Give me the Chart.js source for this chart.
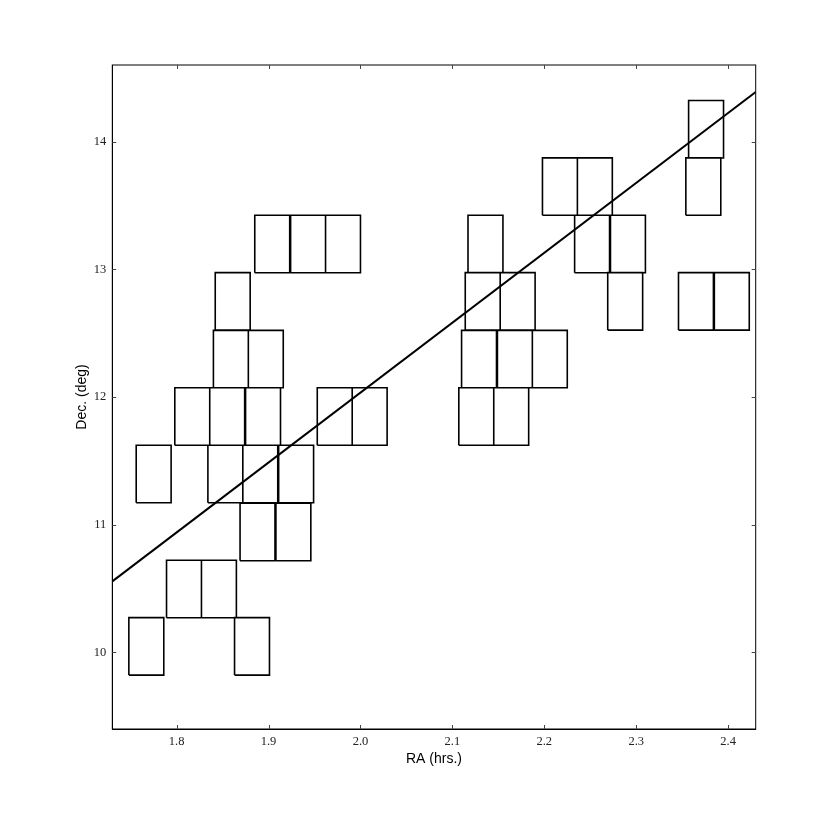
<!DOCTYPE html>
<html>
<head>
<meta charset="utf-8">
<script src="https://cdn.jsdelivr.net/npm/chart.js@4"></script>
<style>
  html, body { margin: 0; padding: 0; background: #fff; }
  #wrap { width: 830px; height: 830px; }
</style>
</head>
<body>
<div id="wrap"><canvas id="c" width="830" height="830"></canvas></div>
<script>
// Field centres (RA in hours, Dec in degrees)
const fieldRA = [
  1.767, 1.882,
  1.808, 1.846,
  1.888, 1.927,
  1.775, 1.853, 1.891, 1.930,
  1.817, 1.855, 1.894, 1.972, 2.010, 2.126, 2.164,
  1.859, 1.897, 2.129, 2.168, 2.206,
  1.861, 2.133, 2.171, 2.288, 2.365, 2.404,
  1.904, 1.943, 1.981, 2.136, 2.252, 2.291,
  2.217, 2.255, 2.373,
  2.376
];
const fieldDec = [
  10.047, 10.047,
  10.496, 10.496,
  10.943, 10.943,
  11.397, 11.397, 11.397, 11.397,
  11.847, 11.847, 11.847, 11.847, 11.847, 11.847, 11.847,
  12.297, 12.297, 12.297, 12.297, 12.297,
  12.749, 12.749, 12.749, 12.749, 12.749, 12.749,
  13.198, 13.198, 13.198, 13.198, 13.198, 13.198,
  13.648, 13.648, 13.648,
  14.097
];
// Field of view size (RA hours x Dec degrees)
const fieldWidthRA = 0.038;
const fieldHeightDec = 0.45;

// Fitted line endpoints
const fitRA = [1.73, 2.43];
const fitDec = [10.556, 14.389];

// Axis ticks
const raTicks = [1.8, 1.9, 2.0, 2.1, 2.2, 2.3, 2.4];
const decTicks = [10, 11, 12, 13, 14];

// Build rectangle outlines (null breaks between them)
const rectPoints = [];
for (let i = 0; i < fieldRA.length; i++) {
  const hx = fieldWidthRA / 2, hy = fieldHeightDec / 2;
  const x = fieldRA[i], y = fieldDec[i];
  rectPoints.push({x: x - hx, y: y - hy}, {x: x + hx, y: y - hy},
                  {x: x + hx, y: y + hy}, {x: x - hx, y: y + hy},
                  {x: x - hx, y: y - hy}, {x: x, y: null});
}
const fitPoints = fitRA.map((x, i) => ({x: x, y: fitDec[i]}));

const tickFont = {family: '"Liberation Serif", "DejaVu Serif", serif', size: 12.5};
const titleFont = {family: '"Liberation Sans", Arial, sans-serif', size: 14};

const framePlugin = {
  id: 'frame',
  afterDraw(chart) {
    const {ctx, chartArea: a, scales} = chart;
    ctx.save();
    ctx.strokeStyle = '#000';
    ctx.lineWidth = 1;
    ctx.strokeRect(a.left, a.top, a.right - a.left, a.bottom - a.top);
    ctx.strokeStyle = '#444';
    ctx.beginPath();
    const tl = 4;
    raTicks.forEach(v => {
      const px = Math.round(scales.x.getPixelForValue(v)) + 0.5;
      ctx.moveTo(px, a.bottom); ctx.lineTo(px, a.bottom - tl);
      ctx.moveTo(px, a.top); ctx.lineTo(px, a.top + tl);
    });
    decTicks.forEach(v => {
      const py = Math.round(scales.y.getPixelForValue(v)) + 0.5;
      ctx.moveTo(a.left, py); ctx.lineTo(a.left + tl, py);
      ctx.moveTo(a.right, py); ctx.lineTo(a.right - tl, py);
    });
    ctx.stroke();
    ctx.restore();
  }
};

new Chart(document.getElementById('c'), {
  type: 'scatter',
  data: {
    datasets: [
      {
        data: rectPoints,
        showLine: true,
        spanGaps: false,
        borderColor: '#000',
        borderWidth: 1.6,
        pointRadius: 0,
        fill: false,
        tension: 0
      },
      {
        data: fitPoints,
        showLine: true,
        borderColor: '#000',
        borderWidth: 2,
        pointRadius: 0,
        fill: false
      }
    ]
  },
  options: {
    responsive: false,
    animation: false,
    events: [],
    layout: {padding: {top: 65, right: 74.3, left: 0, bottom: 0}},
    plugins: {legend: {display: false}, tooltip: {enabled: false}},
    scales: {
      x: {
        type: 'linear',
        min: 1.73, max: 2.43,
        afterFit(s) { s.height = 101; },
        afterBuildTicks(s) { s.ticks = raTicks.map(v => ({value: v})); },
        grid: {display: false, drawTicks: false, tickLength: 0},
        border: {display: true, color: '#000'},
        ticks: {
          padding: 5,
          color: '#222',
          font: tickFont,
          maxRotation: 0,
          callback: v => Number(v).toFixed(1)
        },
        title: {display: true, text: 'RA (hrs.)', color: '#000', font: titleFont,
                padding: {top: 0, bottom: 62.6}}
      },
      y: {
        type: 'linear',
        min: 9.4, max: 14.6,
        afterFit(s) { s.width = 112.3; },
        afterBuildTicks(s) { s.ticks = decTicks.map(v => ({value: v})); },
        grid: {display: false, drawTicks: false, tickLength: 0},
        border: {display: true, color: '#000'},
        ticks: {
          padding: 6,
          color: '#222',
          font: tickFont,
          callback: v => String(v)
        },
        title: {display: true, text: 'Dec. (deg)', color: '#000', font: titleFont,
                padding: {top: 73.6, bottom: 0}}
      }
    }
  },
  plugins: [framePlugin]
});
</script>
</body>
</html>
